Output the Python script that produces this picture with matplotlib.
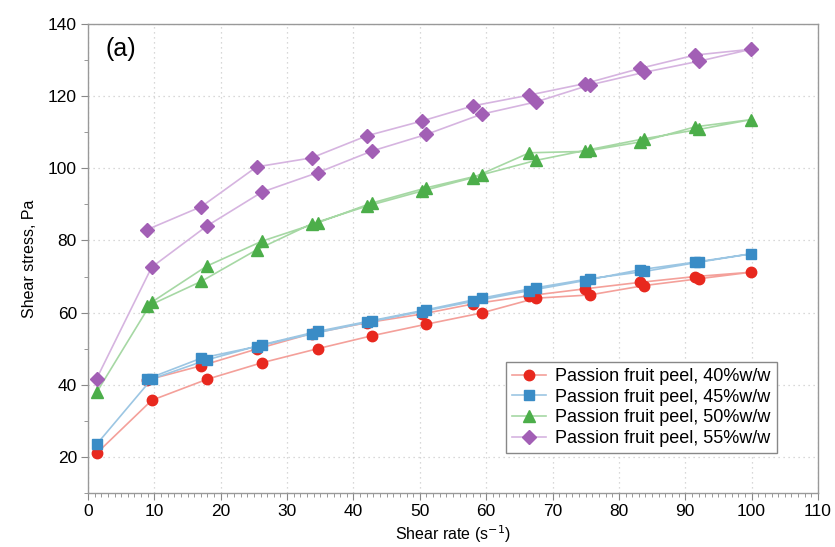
import matplotlib
matplotlib.use("Agg")
import matplotlib.pyplot as plt
from matplotlib.ticker import MultipleLocator

plt.rcParams['font.family'] = ['Liberation Sans', 'DejaVu Sans']

# Shear rates (s^-1): ramp up, then ramp down
shear_up = [1.3, 9.6, 17.9, 26.2, 34.6, 42.8, 51.0, 59.3, 67.5, 75.6, 83.8, 92.1, 99.9]
shear_down = [91.5, 83.2, 74.9, 66.5, 58.0, 50.3, 42.0, 33.7, 25.4, 17.1, 8.9]

labels = ["Passion fruit peel, 40%w/w", "Passion fruit peel, 45%w/w",
          "Passion fruit peel, 50%w/w", "Passion fruit peel, 55%w/w"]

red_up = [21.0, 35.7, 41.5, 46.1, 50.0, 53.6, 56.8, 59.9, 64.0, 64.9, 67.5, 69.4, 71.2]
red_down = [70.0, 68.4, 66.6, 64.7, 62.4, 59.6, 57.2, 54.2, 49.9, 45.3, 41.3]

blue_up = [23.5, 41.6, 46.9, 51.1, 54.8, 57.8, 60.8, 64.0, 66.9, 69.4, 71.4, 74.0, 76.3]
blue_down = [74.0, 71.9, 68.9, 66.1, 63.1, 60.3, 57.3, 54.1, 50.6, 47.4, 41.6]

green_up = [37.9, 62.9, 72.9, 79.8, 84.9, 90.4, 94.6, 98.2, 102.2, 105.2, 108.2, 110.8, 113.5]
green_down = [111.5, 107.3, 104.7, 104.3, 97.4, 93.7, 89.5, 84.6, 77.4, 68.7, 61.7]

purple_up = [41.7, 72.6, 84.0, 93.4, 98.8, 104.8, 109.4, 115.0, 118.4, 123.1, 126.6, 129.7, 133.0]
purple_down = [131.4, 127.7, 123.5, 120.3, 117.3, 113.1, 109.0, 102.9, 100.4, 89.4, 83.0]

x_ticks = list(range(0, 111, 10))
y_ticks = list(range(20, 141, 20))

series = [
    (red_up, red_down, '#e8281e', '#f4a09a', 'o', 7.5),
    (blue_up, blue_down, '#3a8cc6', '#9cc6e3', 's', 7.5),
    (green_up, green_down, '#4cae4a', '#a6d8a4', '^', 8),
    (purple_up, purple_down, '#a25fb5', '#d6b4e0', 'D', 7),
]

fig = plt.figure(figsize=(8.35, 5.47), dpi=100)
ax = fig.add_axes([0.1054, 0.0987, 0.8742, 0.8574])

x_all = shear_up + shear_down
for (up, down, mc, lc, mk, ms), lab in zip(series, labels):
    ax.plot(x_all, up + down, color=lc, lw=1.2, marker=mk, markersize=ms,
            markerfacecolor=mc, markeredgecolor=mc, label=lab, zorder=3)

ax.set_xlim(0, 110)
ax.set_ylim(10, 140)
ax.set_xticks(x_ticks)
ax.set_yticks(y_ticks)
ax.xaxis.set_minor_locator(MultipleLocator(1))
ax.yaxis.set_minor_locator(MultipleLocator(10))
ax.tick_params(axis='both', which='major', direction='out', length=5, width=0.8,
               color='#888888', labelsize=12.5, pad=3)
ax.tick_params(axis='both', which='minor', direction='out', length=3, width=0.6,
               color='#888888')
ax.tick_params(top=False, right=False, which='both')
for sp in ax.spines.values():
    sp.set_color('#999999')
    sp.set_linewidth(1.0)
ax.grid(True, which='major', linestyle=(0, (1, 3)), color='#cccccc', linewidth=0.9)
ax.set_axisbelow(True)

ax.set_xlabel("Shear rate (s$^{-1}$)", fontsize=11.5, labelpad=3)
ax.set_ylabel("Shear stress, Pa", fontsize=11.5, labelpad=8)
ax.text(2.6, 133, "(a)", fontsize=18, va='center', ha='left')

leg = ax.legend(loc='lower right', bbox_to_anchor=(0.944, 0.085), fontsize=13,
                frameon=True, fancybox=False, edgecolor='#888888', framealpha=1,
                handlelength=1.9, handletextpad=0.5, borderpad=0.35, labelspacing=0.2,
                borderaxespad=0)
leg.get_frame().set_linewidth(1.0)

fig.savefig("out.png", dpi=100)
